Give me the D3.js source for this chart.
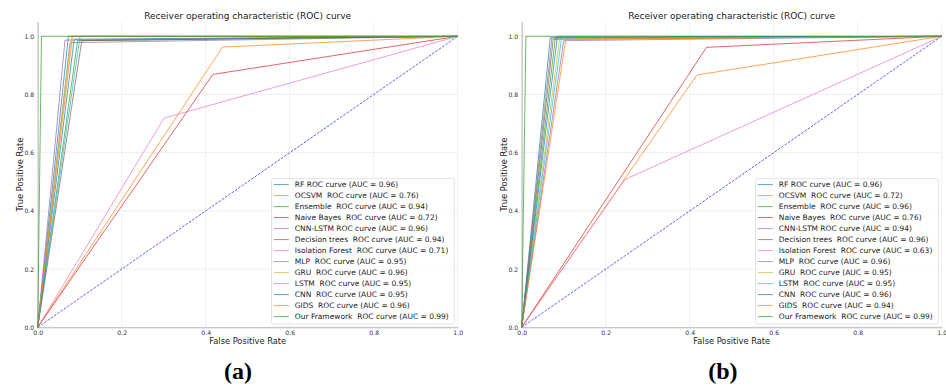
<!DOCTYPE html>
<html><head><meta charset="utf-8">
<script src="https://cdn.jsdelivr.net/npm/d3@7"></script>
<style>
html,body{margin:0;padding:0;background:#fff;}
svg{display:block;}
text{white-space:pre;}
</style></head>
<body>
<svg id="chart" width="946" height="387"></svg>
<script>
// ---------- data ----------
const modelNames = ["RF ", "OCSVM  ", "Ensemble  ", "Naive Bayes  ", "CNN-LSTM ", "Decision trees  ",
  "Isolation Forest  ", "MLP  ", "GRU  ", "LSTM  ", "CNN  ", "GIDS  ", "Our Framework  "];
const seriesColors = ["#1f77b4","#ff7f0e","#2ca02c","#d62728","#9467bd","#8c564b",
  "#e377c2","#7f7f7f","#bcbd22","#17becf","#1f77b4","#ff7f0e","#2ca02c"];
// panel (a)
const aucA = ["0.96","0.76","0.94","0.72","0.96","0.94","0.71","0.95","0.96","0.95","0.95","0.96","0.99"];
const fprA = [0.073, 0.440, 0.095, 0.417, 0.065, 0.105, 0.301, 0.077, 0.080, 0.101, 0.087, 0.083, 0.009];
const tprA = [1.000, 0.963, 0.985, 0.869, 0.987, 0.985, 0.719, 0.978, 1.000, 1.000, 0.990, 1.000, 1.000];
// panel (b)
const aucB = ["0.96","0.72","0.96","0.76","0.94","0.96","0.63","0.96","0.95","0.95","0.96","0.94","0.99"];
const fprB = [0.068, 0.417, 0.080, 0.440, 0.100, 0.075, 0.246, 0.072, 0.090, 0.095, 0.085, 0.105, 0.010];
const tprB = [0.995, 0.867, 0.995, 0.962, 0.985, 0.990, 0.508, 0.995, 0.990, 0.995, 1.000, 0.990, 1.000];
const xTicks = [0, 0.2, 0.4, 0.6, 0.8, 1.0];
const yTicks = [0, 0.2, 0.4, 0.6, 0.8, 1.0];
const titleText = "Receiver operating characteristic (ROC) curve";
const xLabel = "False Positive Rate";
const yLabel = "True Positive Rate";
const panelLabels = ["(a)", "(b)"];

// ---------- drawing ----------
const svg = d3.select("#chart");
const SANS = "'DejaVu Sans', sans-serif";
const panels = [
  {ox: 0, auc: aucA, fpr: fprA, tpr: tprA, tag: panelLabels[0]},
  {ox: 484, auc: aucB, fpr: fprB, tpr: tprB, tag: panelLabels[1]}
];

function fitText(sel, target) {
  // scale font so the text spans the measured width of the reference
  const n = sel.node();
  const fs = parseFloat(sel.style("font-size"));
  const w = n.getComputedTextLength();
  sel.style("font-size", (fs * target / w) + "px");
}

panels.forEach(p => {
  const x0 = 37.7 + p.ox, x1 = x0 + 420;
  const yBot = 327.3, yTop = yBot - 291 * 1.05;
  const x = d3.scaleLinear().domain([0, 1]).range([x0, x1]);
  const y = d3.scaleLinear().domain([0, 1.05]).range([yBot, yTop]);
  const g = svg.append("g");

  // grid
  g.append("g").selectAll("line").data(xTicks).join("line")
    .attr("x1", d => x(d)).attr("x2", d => x(d)).attr("y1", yTop).attr("y2", yBot)
    .attr("stroke", "#ebebeb").attr("stroke-width", 0.8);
  g.append("g").selectAll("line").data(yTicks).join("line")
    .attr("x1", x0).attr("x2", x1).attr("y1", d => y(d)).attr("y2", d => y(d))
    .attr("stroke", "#ebebeb").attr("stroke-width", 0.8);

  // axes (spines only left & bottom)
  const xAxis = d3.axisBottom(x).tickValues(xTicks).tickFormat(d3.format(".1f")).tickSize(0).tickPadding(3);
  const yAxis = d3.axisLeft(y).tickValues(yTicks).tickFormat(d3.format(".1f")).tickSize(0).tickPadding(3.5);
  const gx = g.append("g").attr("transform", `translate(0,${yBot})`).call(xAxis);
  const gy = g.append("g").attr("transform", `translate(${x0},0)`).call(yAxis);
  [gx, gy].forEach(a => {
    a.attr("font-family", null).attr("font-size", null);
    a.select(".domain").attr("stroke", "#b0b0b0").attr("stroke-width", 0.9);
    a.selectAll("text").style("font-family", SANS).style("font-size", "6.1px").attr("fill", "#333");
  });

  // diagonal
  g.append("line").attr("x1", x(0)).attr("y1", y(0)).attr("x2", x(1)).attr("y2", y(1))
    .attr("stroke", "#0000ff").attr("stroke-width", 0.8).attr("stroke-dasharray", "2.6,1.4")
    .attr("opacity", 0.8);

  // curves
  const line = d3.line().x(d => x(d[0])).y(d => y(d[1]));
  modelNames.forEach((n, i) => {
    const pts = [[0, 0], [p.fpr[i], p.tpr[i]], [1, 1]];
    g.append("path").attr("d", line(pts)).attr("fill", "none")
      .attr("stroke", seriesColors[i]).attr("stroke-width", 1).attr("stroke-opacity", 0.7);
  });

  // title & labels
  const t = g.append("text").attr("x", (x0 + x1) / 2).attr("y", 19).attr("text-anchor", "middle")
    .style("font-family", SANS).style("font-size", "8.5px").attr("fill", "#222").text(titleText);
  fitText(t, 207);
  const xl = g.append("text").attr("x", (x0 + x1) / 2).attr("y", 344).attr("text-anchor", "middle")
    .style("font-family", SANS).style("font-size", "8px").attr("fill", "#222").text(xLabel);
  fitText(xl, 77);
  const yl = g.append("text").attr("transform", `translate(${x0 - 14.5},${(yTop + yBot) / 2}) rotate(-90)`)
    .attr("text-anchor", "middle").style("font-family", SANS).style("font-size", "8px").attr("fill", "#222").text(yLabel);
  fitText(yl, 74);

  // legend
  const lg = g.append("g");
  const labels = modelNames.map((n, i) => `${n}ROC curve (AUC = ${p.auc[i]})`);
  const texts = lg.selectAll("text").data(labels).join("text")
    .style("font-family", SANS).style("font-size", "7.6px").attr("fill", "#222").attr("dy", "0.35em").text(d => d);
  let maxW = 0;
  texts.each(function () { maxW = Math.max(maxW, this.getComputedTextLength()); });
  const fsL = 7.6 * 154 / maxW;
  texts.style("font-size", fsL + "px");
  maxW = 154;
  const boxR = x1 - 3.4, boxB = yBot - 3.4;
  const boxW = 23.3 + maxW + 5.5, boxH = 145.3;
  const boxL = boxR - boxW, boxT = boxB - boxH;
  lg.insert("rect", "text").attr("x", boxL).attr("y", boxT).attr("width", boxW).attr("height", boxH)
    .attr("rx", 2).attr("fill", "#fff").attr("fill-opacity", 0.85).attr("stroke", "#dcdcdc").attr("stroke-width", 0.8);
  texts.attr("x", boxL + 23.3).attr("y", (d, i) => boxT + 6 + i * 11);
  lg.selectAll("line.leg").data(labels).join("line").attr("class", "leg")
    .attr("x1", boxL + 2.3).attr("x2", boxL + 17.3)
    .attr("y1", (d, i) => boxT + 6 + i * 11).attr("y2", (d, i) => boxT + 6 + i * 11)
    .attr("stroke", (d, i) => seriesColors[i]).attr("stroke-width", 1).attr("stroke-opacity", 0.7);

  // panel tag
  svg.append("text").attr("x", 238 + p.ox * 1.002).attr("y", 379).attr("text-anchor", "middle")
    .style("font-family", "'Liberation Serif', 'DejaVu Serif', serif").style("font-weight", "bold")
    .style("font-size", "24px").attr("fill", "#000").text(p.tag);
});
</script>
</body></html>
